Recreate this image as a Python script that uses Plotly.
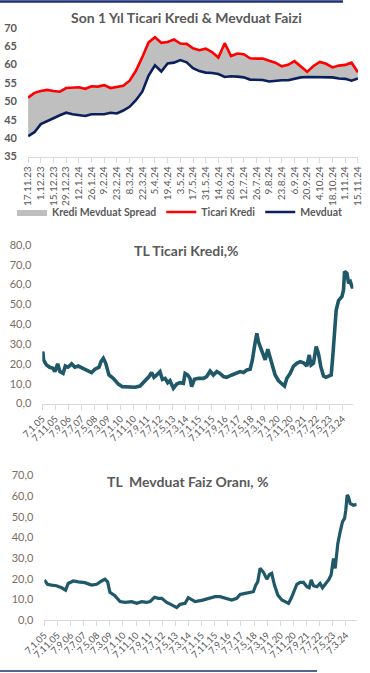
import plotly.graph_objects as go
import pandas as pd

# ---------------- Chart 1 data: weekly, 17.11.2023 - 15.11.2024 ----------------
week_start = "2023-11-17"
ticari_kredi = [51.0, 52.3, 52.8, 53.1, 52.8, 52.6, 53.6, 53.6, 53.8, 53.4,
                54.1, 54.0, 54.4, 53.6, 53.9, 54.2, 55.6, 58.3, 62.0, 66.0,
                67.4, 65.9, 66.1, 66.8, 65.7, 65.6, 64.4, 63.9, 64.3, 63.4,
                61.9, 65.8, 62.3, 63.0, 62.8, 61.7, 61.6, 61.6, 61.0, 60.5,
                59.5, 59.9, 60.9, 59.4, 58.0, 59.6, 60.7, 60.2, 59.2, 59.7,
                59.9, 60.5, 57.9]
mevduat = [40.5, 41.6, 43.8, 44.7, 45.4, 46.2, 46.9, 46.5, 46.2, 46.0,
           46.5, 46.6, 46.5, 46.9, 46.7, 47.5, 48.5, 50.3, 52.6, 57.0,
           59.8, 58.1, 60.3, 60.5, 61.2, 60.6, 59.0, 58.2, 57.8, 57.7,
           57.4, 56.6, 56.8, 56.7, 56.5, 55.9, 55.9, 55.8, 55.4, 55.6,
           55.7, 55.7, 56.2, 56.5, 56.6, 56.6, 56.6, 56.4, 56.5, 56.2,
           56.1, 55.6, 56.2]
week_ticks = ["17.11.23", "1.12.23", "15.12.23", "29.12.23", "12.1.24", "26.1.24",
              "9.2.24", "23.2.24", "8.3.24", "22.3.24", "5.4.24", "19.4.24",
              "3.5.24", "17.5.24", "31.5.24", "14.6.24", "28.6.24", "12.7.24",
              "26.7.24", "9.8.24", "23.8.24", "6.9.24", "20.9.24", "4.10.24",
              "18.10.24", "1.11.24", "15.11.24"]
y1_ticks = [35, 40, 45, 50, 55, 60, 65, 70]

# ---------------- Chart 2 data: TL Ticari Kredi, % ----------------
krd_dates = ["2005-01-07", "2005-01-21", "2005-02-04", "2005-04-16", "2005-06-28",
             "2005-09-12", "2005-10-28", "2005-12-31", "2006-02-22", "2006-05-07",
             "2006-06-28", "2006-08-28", "2006-11-22", "2007-02-07", "2007-04-25",
             "2007-08-19", "2007-12-16", "2008-03-01", "2008-05-19", "2008-08-22",
             "2008-10-07", "2008-12-01", "2009-01-25", "2009-04-10", "2009-07-19",
             "2009-11-16", "2010-02-16", "2010-07-04", "2010-12-10", "2011-04-04",
             "2011-06-22", "2011-09-07", "2011-11-01", "2011-12-31", "2012-02-25",
             "2012-04-28", "2012-07-13", "2012-09-07", "2012-11-10", "2013-01-10",
             "2013-03-04", "2013-05-22", "2013-08-07", "2013-10-25", "2014-01-10",
             "2014-02-19", "2014-04-22", "2014-06-13", "2014-07-22", "2014-09-25",
             "2014-12-25", "2015-04-22", "2015-07-07", "2015-09-25", "2015-12-10",
             "2016-02-28", "2016-05-13", "2016-07-31", "2016-10-16", "2017-02-13",
             "2017-06-07", "2017-08-25", "2017-11-10", "2018-01-28", "2018-04-16",
             "2018-06-07", "2018-08-07", "2018-09-19", "2018-10-25", "2018-12-28",
             "2019-02-22", "2019-04-01", "2019-06-01", "2019-07-25", "2019-09-19",
             "2019-11-19", "2020-02-07", "2020-04-22", "2020-06-25", "2020-08-19",
             "2020-11-04", "2021-01-22", "2021-04-07", "2021-06-25", "2021-09-13",
             "2021-11-28", "2022-01-22", "2022-03-07", "2022-05-01", "2022-07-04",
             "2022-08-25", "2022-10-19", "2022-12-22", "2023-02-16", "2023-04-16",
             "2023-06-19", "2023-07-25", "2023-08-28", "2023-10-13", "2023-12-07",
             "2024-02-25", "2024-04-01", "2024-04-25", "2024-06-19", "2024-07-28",
             "2024-09-07", "2024-10-28", "2024-11-15"]
krd_vals = [24.5, 26.2, 22.0, 19.4, 18.3, 17.8, 16.1, 20.0, 16.1, 15.2,
            18.9, 18.3, 20.0, 18.3, 18.9, 17.8, 16.6, 15.6, 17.3, 18.3,
            21.1, 22.8, 20.3, 14.4, 12.7, 9.8, 8.5, 8.5, 8.2, 8.8,
            10.5, 11.9, 13.6, 15.6, 13.2, 14.4, 16.1, 12.2, 12.7, 10.5,
            11.5, 7.7, 9.8, 10.5, 10.2, 15.2, 14.4, 12.7, 8.5, 12.2,
            12.7, 12.7, 13.6, 16.4, 14.4, 16.1, 15.2, 13.6, 13.2, 14.4,
            15.6, 16.1, 15.6, 16.9, 17.3, 22.0, 30.4, 35.4, 31.2, 27.9,
            24.5, 22.0, 27.4, 23.7, 18.6, 14.4, 11.5, 10.2, 8.8, 12.7,
            15.2, 18.9, 20.3, 21.1, 20.5, 18.9, 24.5, 19.4, 20.3, 28.7,
            25.3, 18.6, 13.9, 13.2, 13.9, 14.4, 23.7, 35.4, 47.2, 51.9,
            54.0, 57.3, 66.6, 65.7, 60.7, 61.5, 58.2, 59.5]

# ---------------- Chart 3 data: TL Mevduat Faiz Oranı, % ----------------
mev_dates = ["2005-01-07", "2005-03-22", "2005-06-25", "2005-10-19", "2006-02-13",
             "2006-05-16", "2006-07-16", "2006-11-10", "2007-03-07", "2007-08-07",
             "2008-01-10", "2008-05-07", "2008-08-31", "2008-11-16", "2009-01-16",
             "2009-03-10", "2009-07-04", "2009-10-31", "2010-02-25", "2010-08-01",
             "2010-11-22", "2011-03-16", "2011-07-10", "2011-09-28", "2012-01-07",
             "2012-04-07", "2012-06-25", "2012-10-19", "2013-02-13", "2013-06-07",
             "2013-08-25", "2013-12-19", "2014-03-04", "2014-05-22", "2014-08-07",
             "2015-01-10", "2015-06-13", "2015-11-16", "2016-03-10", "2016-07-04",
             "2016-12-07", "2017-03-31", "2017-06-19", "2017-10-13", "2018-02-07",
             "2018-04-22", "2018-06-16", "2018-08-01", "2018-09-25", "2018-12-13",
             "2019-02-28", "2019-05-01", "2019-06-22", "2019-08-25", "2019-11-10",
             "2020-02-13", "2020-04-28", "2020-07-16", "2020-09-16", "2020-11-10",
             "2021-01-25", "2021-04-13", "2021-06-28", "2021-09-16", "2021-11-07",
             "2021-12-25", "2022-02-16", "2022-05-04", "2022-07-19", "2022-09-13",
             "2022-11-13", "2023-02-01", "2023-04-01", "2023-05-25", "2023-07-04",
             "2023-09-04", "2023-10-28", "2023-12-22", "2024-02-07", "2024-03-07",
             "2024-04-07", "2024-05-07", "2024-06-16", "2024-08-31", "2024-11-15"]
mev_vals = [19.4, 17.3, 16.9, 16.6, 15.6, 14.5, 17.7, 18.9, 18.5, 18.1,
            16.9, 17.3, 18.9, 19.8, 18.5, 13.4, 11.8, 8.9, 8.5, 8.9,
            8.1, 8.9, 8.5, 8.9, 11.0, 10.5, 10.5, 8.5, 7.3, 6.0,
            7.6, 8.1, 10.8, 9.7, 8.9, 9.5, 10.2, 11.3, 11.3, 10.5,
            9.7, 10.5, 12.4, 12.9, 13.4, 13.7, 16.9, 18.5, 25.0, 23.1,
            19.8, 22.1, 22.6, 16.9, 12.1, 9.7, 8.9, 8.1, 10.5, 13.7,
            17.3, 18.2, 18.2, 16.1, 15.6, 19.4, 16.6, 16.1, 17.7, 15.6,
            17.3, 19.4, 21.8, 29.8, 25.0, 37.1, 42.7, 47.6, 49.2, 53.2,
            60.5, 59.7, 56.5, 55.6, 56.0]

long_tick_dates = ["2005-01-07", "2005-11-07", "2006-09-07", "2007-07-07", "2008-05-07",
                   "2009-03-07", "2010-01-07", "2010-11-07", "2011-09-07", "2012-07-07",
                   "2013-05-07", "2014-03-07", "2015-01-07", "2015-11-07", "2016-09-07",
                   "2017-07-07", "2018-05-07", "2019-03-07", "2020-01-07", "2020-11-07",
                   "2021-09-07", "2022-07-07", "2023-05-07", "2024-03-07"]
long_tick_text = ["7.1.05", "7.11.05", "7.9.06", "7.7.07", "7.5.08", "7.3.09",
                  "7.1.10", "7.11.10", "7.9.11", "7.7.12", "7.5.13", "7.3.14",
                  "7.1.15", "7.11.15", "7.9.16", "7.7.17", "7.5.18", "7.3.19",
                  "7.1.20", "7.11.20", "7.9.21", "7.7.22", "7.5.23", "7.3.24"]

# ---------------- Figure ----------------
W, H = 370, 673
FONT = "Lato"
GREY_TXT = "#595959"
TAN_TXT = "#7a6e62"
TEAL = "#1f5868"

week_x = [d.strftime("%Y-%m-%d") for d in
          pd.date_range(week_start, periods=len(ticari_kredi), freq="7D")]
week_tickvals = week_x[::2]
pad = pd.Timedelta(hours=3)
week_range = [(pd.Timestamp(week_x[0]) - pad).strftime("%Y-%m-%d %H:%M"),
              (pd.Timestamp(week_x[-1]) + pad).strftime("%Y-%m-%d %H:%M")]

fig = go.Figure()

# Chart 1: spread fill
fig.add_trace(go.Scatter(x=week_x, y=mevduat, mode="lines", line=dict(width=0),
                         showlegend=False, hoverinfo="skip", xaxis="x", yaxis="y"))
fig.add_trace(go.Scatter(x=week_x, y=ticari_kredi, mode="lines", fill="tonexty",
                         fillcolor="#bfbfbf", line=dict(width=0, color="#bfbfbf"),
                         name="Kredi Mevduat Spread", xaxis="x", yaxis="y"))
fig.add_trace(go.Scatter(x=week_x, y=ticari_kredi, mode="lines",
                         line=dict(color="#ff0000", width=2.6),
                         name="Ticari Kredi", xaxis="x", yaxis="y"))
fig.add_trace(go.Scatter(x=week_x, y=mevduat, mode="lines",
                         line=dict(color="#0b1f5c", width=2.6),
                         name="Mevduat", xaxis="x", yaxis="y"))

# Chart 2
fig.add_trace(go.Scatter(x=krd_dates, y=krd_vals, mode="lines",
                         line=dict(color=TEAL, width=3.6), showlegend=False,
                         xaxis="x2", yaxis="y2"))
# Chart 3
fig.add_trace(go.Scatter(x=mev_dates, y=mev_vals, mode="lines",
                         line=dict(color=TEAL, width=3.2), showlegend=False,
                         xaxis="x3", yaxis="y3"))


def ydom(top_px, bot_px):
    return [1 - bot_px / H, 1 - top_px / H]


def xdom(l_px, r_px):
    return [l_px / W, r_px / W]


axis_common = dict(showgrid=False, zeroline=False, showline=True,
                   linecolor="#d9d9d9", linewidth=1, ticks="outside",
                   tickcolor="#d9d9d9", ticklen=5, automargin=False)
yaxis_common = dict(showline=False, showgrid=False, zeroline=False, ticks="",
                    ticklabelstandoff=10, automargin=False)

fig.update_layout(
    template="none",
    width=W, height=H,
    margin=dict(l=0, r=0, t=0, b=0, autoexpand=False),
    paper_bgcolor="white", plot_bgcolor="white",
    separators=",.",
    font=dict(family=FONT, color=GREY_TXT),
    showlegend=True,
    hovermode=False,
    legend=dict(orientation="h", x=12 / W, y=1 - 212 / H, xanchor="left",
                yanchor="middle", traceorder="normal",
                font=dict(family=FONT, size=10.5, color=GREY_TXT, weight="bold"),
                itemwidth=30, bgcolor="rgba(0,0,0,0)", borderwidth=0),
    xaxis=dict(domain=xdom(28, 358), type="date", range=week_range,
               tickmode="array", tickvals=week_tickvals, ticktext=week_ticks,
               tickangle=-90, tickfont=dict(size=10, color=GREY_TXT),
               anchor="y", **axis_common),
    yaxis=dict(domain=ydom(27.7, 156.5), range=[35, 70], tickmode="array",
               tickvals=y1_ticks,
               tickfont=dict(size=11, color=GREY_TXT, weight="bold"),
               anchor="x", **yaxis_common),
    xaxis2=dict(domain=xdom(42.3, 353.3), type="date",
                range=[krd_dates[0], krd_dates[-1]],
                tickmode="array", tickvals=long_tick_dates, ticktext=long_tick_text,
                tickangle=-45, tickfont=dict(size=9.5, color=GREY_TXT),
                anchor="y2", **axis_common),
    yaxis2=dict(domain=ydom(245, 403.5), range=[0, 80], dtick=10, tickformat=".1f",
                tickfont=dict(size=11, color=TAN_TXT),
                anchor="x2", **yaxis_common),
    xaxis3=dict(domain=xdom(44.3, 356.7), type="date",
                range=[mev_dates[0], mev_dates[-1]],
                tickmode="array", tickvals=long_tick_dates, ticktext=long_tick_text,
                tickangle=-45, tickfont=dict(size=9.5, color=GREY_TXT),
                anchor="y3", **axis_common),
    yaxis3=dict(domain=ydom(475.5, 620), range=[0, 70], dtick=10, tickformat=".1f",
                tickfont=dict(size=11, color=TAN_TXT),
                anchor="x3", **yaxis_common),
)

titles = [
    ("Son 1 Yıl Ticari Kredi & Mevduat Faizi", 187, 17, 14),
    ("TL Ticari Kredi,%", 187, 250, 14),
    ("TL  Mevduat Faiz Oranı, %", 188, 481, 14),
]
for text, xp, yp, sz in titles:
    fig.add_annotation(text=text, x=xp / W, y=1 - yp / H, xref="paper", yref="paper",
                       showarrow=False, xanchor="center", yanchor="middle",
                       font=dict(family=FONT, size=sz, color=GREY_TXT, weight="bold"))

# decorative frame lines (top and bottom)
fig.add_shape(type="line", xref="paper", yref="paper", x0=0, x1=343 / W,
              y0=1 - 1.5 / H, y1=1 - 1.5 / H, line=dict(color="#1f2f7a", width=2.5))
fig.add_shape(type="line", xref="paper", yref="paper", x0=0, x1=317 / W,
              y0=1 - 671 / H, y1=1 - 671 / H, line=dict(color="#1f2f6a", width=1.5))

fig.write_html("out.html",
               config={"displayModeBar": False, "staticPlot": True},
               post_script="document.body.style.margin='0px';"
                           "document.body.style.overflow='hidden';")
